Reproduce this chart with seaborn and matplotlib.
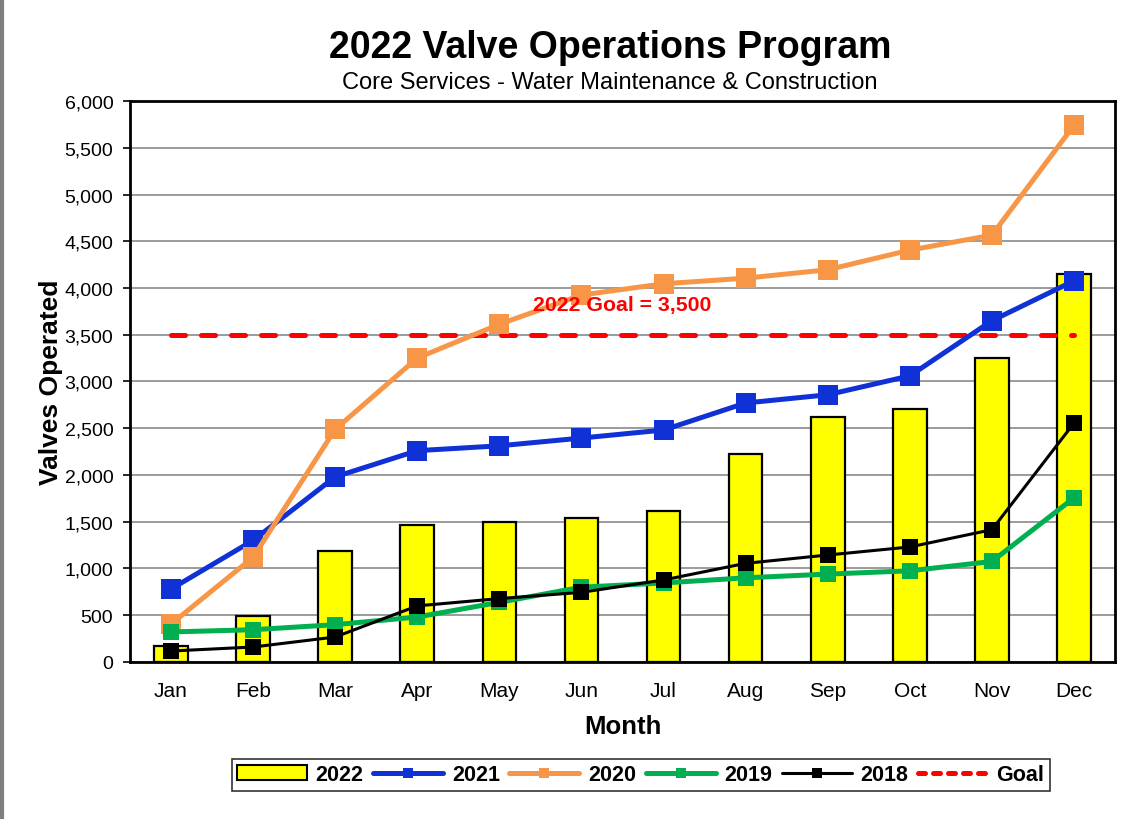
import matplotlib
matplotlib.use('Agg')

import matplotlib.pyplot as plt
import seaborn as sns
import numpy as np
import pandas as pd
from matplotlib.patches import Patch
from matplotlib.lines import Line2D
from matplotlib.ticker import FuncFormatter, MultipleLocator, FixedLocator

months = ['Jan', 'Feb', 'Mar', 'Apr', 'May', 'Jun', 'Jul', 'Aug', 'Sep', 'Oct', 'Nov', 'Dec']
v2022 = [170, 495, 1190, 1460, 1500, 1540, 1612, 2225, 2620, 2710, 3256, 4150]
v2021 = [780, 1300, 1980, 2260, 2312, 2395, 2481, 2770, 2858, 3060, 3650, 4077]
v2020 = [405, 1120, 2488, 3251, 3612, 3925, 4045, 4105, 4195, 4405, 4565, 5740]
v2019 = [321, 345, 399, 481, 638, 800, 845, 900, 940, 975, 1075, 1755]
v2018 = [117, 160, 267, 600, 678, 745, 877, 1055, 1144, 1230, 1415, 2555]
goal = 3500

sns.set_style('white')
plt.rcParams['font.family'] = ['Liberation Sans', 'DejaVu Sans']
plt.rcParams['text.color'] = 'black'
plt.rcParams['axes.labelcolor'] = 'black'
plt.rcParams['xtick.color'] = 'black'
plt.rcParams['ytick.color'] = 'black'

df = pd.DataFrame({'Month': months, '2022': v2022})
pos = np.arange(len(months))

fig = plt.figure(figsize=(11.28, 8.2), dpi=100)
ax = fig.add_axes([0.1152, 0.1915, 0.8733, 0.6841])

sns.barplot(data=df, x='Month', y='2022', color='#FFFF00', saturation=1,
            width=0.41, edgecolor='black', linewidth=1.6, ax=ax, zorder=2)

# line series: (values, colour, line width, marker size)
series = [
    (v2021, '#0F31D6', 3.6, 14),
    (v2020, '#F79646', 3.6, 14),
    (v2019, '#00B050', 3.6, 11),
    (v2018, 'black', 2.2, 11),
]
for vals, col, lw, ms in series:
    sns.lineplot(x=pos, y=vals, color=col, linewidth=lw, marker='s',
                 markersize=ms, markeredgewidth=0, sort=False, ax=ax, zorder=3)

sns.lineplot(x=pos, y=[goal] * len(months), color='#FF0000', linewidth=3.6,
             linestyle=(0, (2.8, 3.2)), dash_capstyle='round', ax=ax, zorder=2.5)

ax.text(pos[5] + 0.5, goal + 320, '2022 Goal = 3,500', color='#FF0000',
        fontsize=15.3, fontweight='bold', ha='center', va='center', zorder=4)

ax.set_ylim(0, 6000)
ax.set_xlim(-0.5, len(months) - 0.5)
ax.yaxis.set_major_locator(MultipleLocator(500))
ax.yaxis.set_major_formatter(FuncFormatter(lambda v, p: f'{int(v):,}'))
ax.grid(axis='y', color='#808080', linewidth=1.1, zorder=0)
ax.set_axisbelow(True)

ax.xaxis.set_minor_locator(FixedLocator(np.arange(-0.5, len(months), 1)))
ax.tick_params(axis='x', which='major', length=0, labelsize=15, pad=14)
ax.tick_params(axis='x', which='minor', length=6, width=1.2, color='black')
ax.tick_params(axis='y', which='major', length=5, width=1.2, color='black',
               labelsize=14, left=True, pad=7)

for s in ax.spines.values():
    s.set_color('black')
    s.set_linewidth(2)

ax.set_xlabel('Month', fontsize=18.5, fontweight='bold', labelpad=10)
ax.set_ylabel('Valves Operated', fontsize=19, fontweight='bold')
ax.yaxis.set_label_coords(-0.068, 0.5)

fig.text(0.541, 0.941, '2022 Valve Operations Program', fontsize=27,
         fontweight='bold', ha='center', va='center')
fig.text(0.541, 0.899, 'Core Services - Water Maintenance & Construction',
         fontsize=17, ha='center', va='center')

handles = [
    Patch(facecolor='#FFFF00', edgecolor='black', linewidth=1.5),
    Line2D([], [], color='#0F31D6', lw=3.6, marker='s', markersize=7, markeredgewidth=0),
    Line2D([], [], color='#F79646', lw=3.6, marker='s', markersize=7, markeredgewidth=0),
    Line2D([], [], color='#00B050', lw=3.6, marker='s', markersize=7, markeredgewidth=0),
    Line2D([], [], color='black', lw=2.2, marker='s', markersize=7, markeredgewidth=0),
    Line2D([], [], color='#FF0000', lw=3.6, linestyle=(0, (1.4, 1.6)), dash_capstyle='round'),
]
labels = ['2022', '2021', '2020', '2019', '2018', 'Goal']
leg = fig.legend(handles, labels, loc='center', bbox_to_anchor=(0.568, 0.054),
                 ncol=6, frameon=True, fancybox=False, edgecolor='black',
                 prop={'weight': 'bold', 'size': 15.5}, handlelength=3.25,
                 handletextpad=0.4, columnspacing=0.45, borderpad=0.25)
leg.get_frame().set_linewidth(1.2)

fig.add_artist(Line2D([0.002, 0.002], [0, 1], color='#7F7F7F', lw=3,
                      transform=fig.transFigure))

fig.savefig('out.png', dpi=100)
plt.close(fig)
